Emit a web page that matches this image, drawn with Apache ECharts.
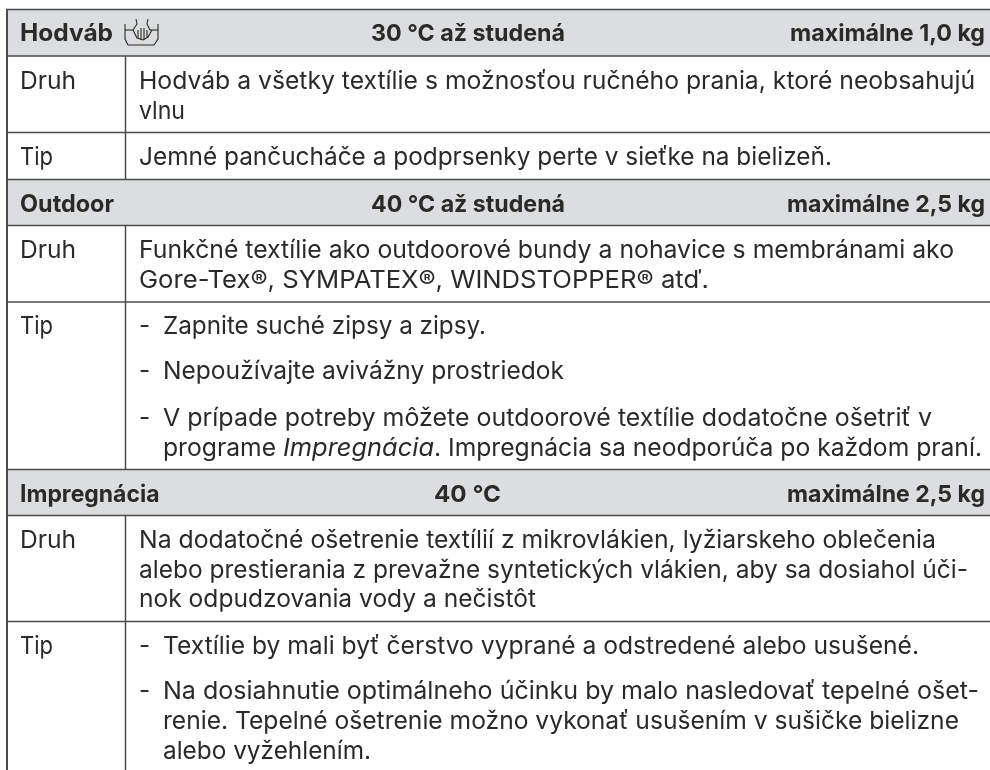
<!DOCTYPE html>
<html><head><meta charset="utf-8">
<style>html,body{margin:0;padding:0;background:#fff}#c{width:990px;height:770px}</style>
<script src="https://cdn.jsdelivr.net/npm/echarts@6/dist/echarts.min.js"></script>
</head><body><div id="c"></div>
<script>
const headerNames = ["Hodváb", "Outdoor", "Impregnácia"];
const headerTemps = ["30 °C až studená", "40 °C až studená", "40 °C"];
const headerLoads = ["maximálne 1,0 kg", "maximálne 2,5 kg", "maximálne 2,5 kg"];
const rowLabels = ["Druh", "Tip", "Druh", "Tip", "Druh", "Tip"];
const bodyLines = [
  "Hodváb a všetky textílie s možnosťou ručného prania, ktoré neobsahujú",
  "vlnu",
  "Jemné pančucháče a podprsenky perte v sieťke na bielizeň.",
  "Funkčné textílie ako outdoorové bundy a nohavice s membránami ako",
  "Gore-Tex®, SYMPATEX®, WINDSTOPPER® atď.",
  "Na dodatočné ošetrenie textílií z mikrovlákien, lyžiarskeho oblečenia",
  "alebo prestierania z prevažne syntetických vlákien, aby sa dosiahol úči-",
  "nok odpudzovania vody a nečistôt"
];
const tipLines = [
  "Zapnite suché zipsy a zipsy.",
  "Nepoužívajte avivážny prostriedok",
  "V prípade potreby môžete outdoorové textílie dodatočne ošetriť v",
  "Textílie by mali byť čerstvo vyprané a odstredené alebo usušené.",
  "Na dosiahnutie optimálneho účinku by malo nasledovať tepelné ošet-",
  "renie. Tepelné ošetrenie možno vykonať usušením v sušičke bielizne",
  "alebo vyžehlením."
];
const mixedLine = ["programe ", "Impregnácia", ". Impregnácia sa neodporúča po každom praní."];
const ink = '#2b2a2b', rule = '#4a4b4d', band = '#dcddde';
const F = 'Inter, sans-serif', S = 24.3;
const g = [];
const mctx = document.createElement('canvas').getContext('2d');
const fontOf = o=>(o.bold?'700 ':'')+(o.italic?'italic ':'')+(o.size||S)+'px '+F;
const w = (s,o={})=>{mctx.font=fontOf(o);return mctx.measureText(s).width;};
const rect = (x,y,wd,h)=>g.push({type:'rect',shape:{x,y,width:wd,height:h},style:{fill:band},silent:true});
const hl = (y,x1=6,x2=990)=>g.push({type:'line',shape:{x1,y1:y,x2,y2:y},style:{stroke:rule,lineWidth:1.5},silent:true});
const vl = (x,y1,y2,lw=1.5)=>g.push({type:'line',shape:{x1:x,y1,x2:x,y2},style:{stroke:rule,lineWidth:lw},silent:true});
// draws text from x to the measured right edge "end" of the reference line
const t = (text,x,y,end,o={})=>g.push({type:'text',x,y,scaleX:end?(end-x)/w(text,o):1,silent:true,style:{text,fill:ink,font:fontOf(o),textAlign:'left',verticalAlign:'middle'}});

const bands=[[10,56],[180,225],[469,515]], headY=[34,205,495];
const nameEnd=[113,114,159.5], tempX=[371,371,434], tempEnd=[565,565,501], loadX=[790,787,787];
bands.forEach((b,i)=>{
  rect(7,b[0],983,b[1]-b[0]);
  t(headerNames[i],20,headY[i],nameEnd[i],{bold:true,size:24});
  t(headerTemps[i],tempX[i],headY[i],tempEnd[i],{bold:true,size:23.5});
  t(headerLoads[i],loadX[i],headY[i],985,{bold:true,size:23.5});
});
[9.5,56,132.5,179.5,225.5,302,469.5,515.5,621.5].forEach(y=>hl(y));
vl(7,9,770,2);
[[56,179],[225,469],[515,770]].forEach(r=>vl(125.5,r[0],r[1]));
[81.5,157.5,250.5,326.5,540.5,647].forEach((y,i)=>t(rowLabels[i],20,y,i%2?53:76));
[[81.5,975],[111.5,185],[157.5,832],[250.5,954],[280.5,709],[540.5,936],[570.5,968],[600,536]]
  .forEach((a,i)=>t(bodyLines[i],139,a[0],a[1]));
[[326.5,486],[372,564],[418.5,932],[647,919],[692,979],[722,959],[752,371]]
  .forEach((a,i)=>{ if(i<5) t('-',139,a[0]); t(tipLines[i],163,a[0],a[1]); });
t(mixedLine[0],163,448.5,283);
t(mixedLine[1],283,448.5,434,{italic:true});
t(mixedLine[2],434,448.5,982);
// hand-wash icon
const pl=(points,lw=1.1)=>g.push({type:'polyline',silent:true,shape:{points},style:{fill:'none',stroke:ink,lineWidth:lw}});
pl([[125,24],[125,39],[128,45],[154,45],[158,39],[158,24]]);
pl([[125,30],[133,30]]); pl([[150,30],[158,30]]);
pl([[133,30],[137,24],[136,19]]); pl([[150,30],[147,24],[148,19]]);
pl([[133,30],[137,38],[143,40],[148,37],[152,30]]);
[[138,30,38],[141,28,40],[144,28,40],[147,30,37]].forEach(f=>pl([[f[0],f[1]],[f[0],f[2]]]));
const chart = echarts.init(document.getElementById('c'),null,{renderer:'canvas'});
chart.setOption({animation:false,backgroundColor:'#fff',graphic:{elements:g}});
</script></body></html>
